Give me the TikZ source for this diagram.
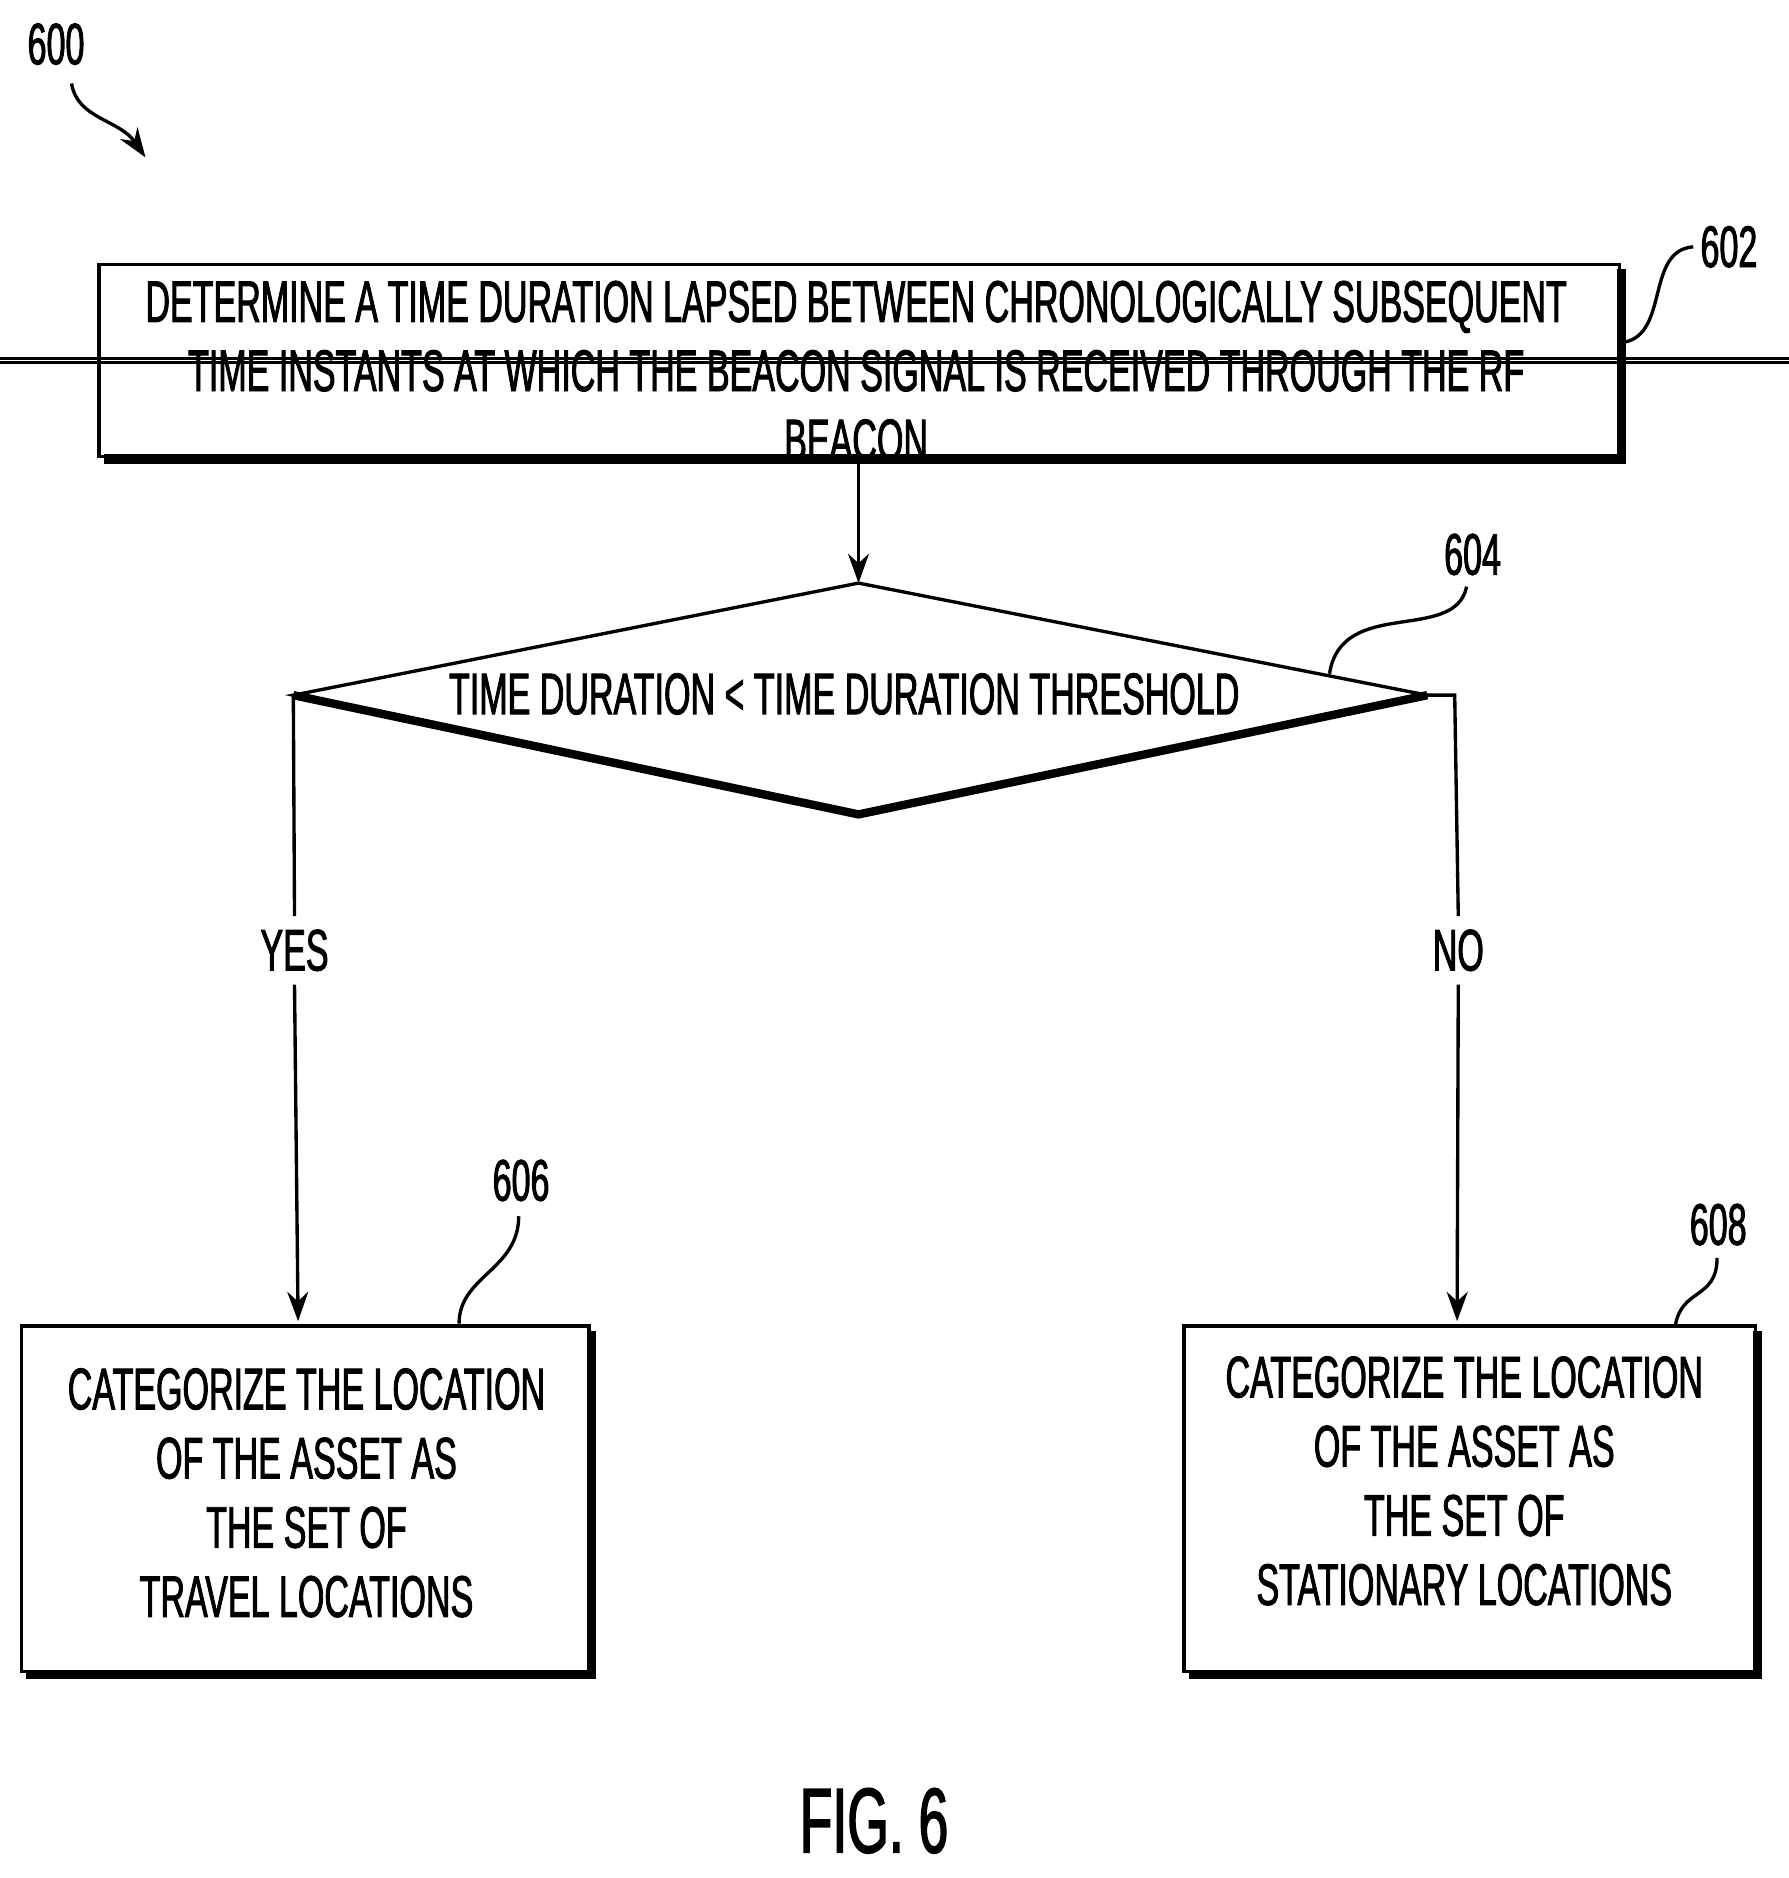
\documentclass[tikz,border=0pt]{standalone}
\usepackage{fontspec}
\setmainfont{Liberation Sans}[FakeStretch=0.58,FakeBold=1.5]
\usetikzlibrary{arrows.meta}
\begin{document}
\begin{tikzpicture}[x=0.01cm,y=-0.01cm,
  box/.style={draw,line width=0.8pt},
  shadow/.style={line width=2.2pt},
  txt/.style={font=\fontsize{14}{16.5}\selectfont,align=center},
  lbl/.style={font=\fontsize{14}{16}\selectfont},
  arr/.style={-{Stealth[length=7pt,width=5pt]},line width=0.8pt},
  sq/.style={line width=0.8pt}]
\useasboundingbox (0,0) rectangle (1500,1575);
% 600
\node[lbl] (l600) at (47,37) {600};
\coordinate (a1) at (60,70); \coordinate (a2) at (122,132);
\draw[arr] (a1) .. controls (65,100) and (100,100) .. (a2);
% 602
\node[box,minimum width=1275\pgflinewidth,inner sep=0] (b602) at (720.5,302.5) {};
\draw[box] (83,222) rectangle (1358,383);
\draw[shadow] (1360,226) -- (1360,385) -- (87,385);
\node[txt] (t602) at (718,311) {DETERMINE A TIME DURATION LAPSED BETWEEN CHRONOLOGICALLY SUBSEQUENT\\TIME INSTANTS AT WHICH THE BEACON SIGNAL IS RECEIVED THROUGH THE RF\\BEACON};
\node[lbl] (l602) at (1450,207) {602};
\coordinate (s602a) at (1362,287); \coordinate (s602b) at (1420,207);
\draw[sq] (s602a) .. controls (1400,280) and (1380,210) .. (s602b);
% diamond
\coordinate (dt) at (720,489); \coordinate (dl) at (246,583);
\coordinate (dr) at (1197,583); \coordinate (db) at (720,683);
\draw[line width=0.8pt] (dt) -- (dr) -- (db) -- (dl) -- cycle;
\draw[line width=2pt] (dl) -- (db) -- (dr);
\node[txt] (t604) at (708,582) {TIME DURATION < TIME DURATION THRESHOLD};
\coordinate (top602) at (720,385);
\draw[arr] (top602) -- (dt);
\node[lbl] (l604) at (1235,465) {604};
\coordinate (s604a) at (1115,565); \coordinate (s604b) at (1230,492);
\draw[sq] (s604a) .. controls (1125,500) and (1220,540) .. (s604b);
% 606
\draw[box] (18,1112) rectangle (494,1402);
\draw[shadow] (496,1116) -- (496,1404) -- (22,1404);
\node[txt] (t606) at (257,1252) {CATEGORIZE THE LOCATION\\OF THE ASSET AS\\THE SET OF\\TRAVEL LOCATIONS};
\node[lbl] (l606) at (437,990) {606};
\coordinate (s606a) at (385,1110); \coordinate (s606b) at (435,1020);
\draw[sq] (s606a) .. controls (385,1070) and (435,1065) .. (s606b);
% 608
\draw[box] (993,1112) rectangle (1472,1402);
\draw[shadow] (1474,1116) -- (1474,1404) -- (997,1404);
\node[txt] (t608) at (1228,1242) {CATEGORIZE THE LOCATION\\OF THE ASSET AS\\THE SET OF\\STATIONARY LOCATIONS};
\node[lbl] (l608) at (1441,1027) {608};
\coordinate (s608a) at (1405,1112); \coordinate (s608b) at (1440,1055);
\draw[sq] (s608a) .. controls (1410,1080) and (1440,1090) .. (s608b);
% yes/no
\node[lbl,fill=white,inner sep=3pt] (yes) at (247,797) {YES};
\node[lbl,fill=white,inner sep=3pt] (no) at (1223,797) {NO};
\coordinate (y1) at (250,1108); \coordinate (n0) at (1220,583); \coordinate (n1) at (1222,1108);
\draw[line width=0.8pt] (dl) -- (yes.north);
\draw[arr] (yes.south) -- (y1);
\draw[line width=0.8pt] (dr) -- (n0) -- (no.north);
\draw[arr] (no.south) -- (n1);
\node[font=\fontsize{22}{24}\selectfont] (fig) at (733,1527) {FIG. 6};
\end{tikzpicture}
\end{document}
